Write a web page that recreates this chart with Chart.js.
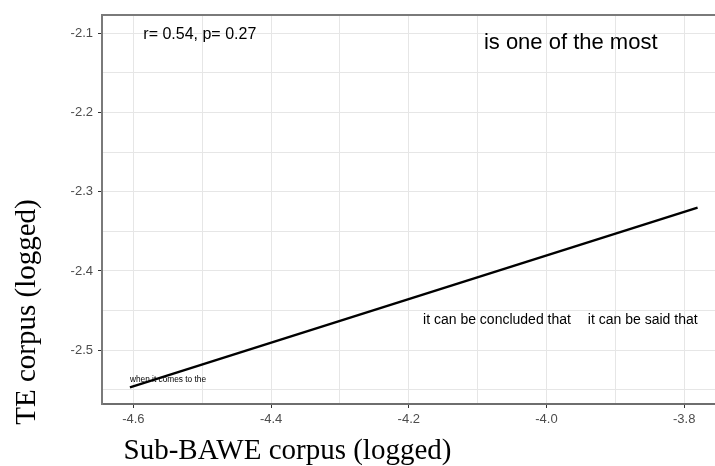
<!DOCTYPE html>
<html>
<head>
<meta charset="utf-8">
<script src="https://cdn.jsdelivr.net/npm/chart.js@4.4.0/dist/chart.umd.min.js"></script>
<style>
  html, body { margin: 0; padding: 0; background: #fff; overflow: hidden; }
</style>
</head>
<body>
<canvas id="grafico" width="740" height="466"></canvas>
<script>
// Frases e frequências (log) nos dois corpora
const frases = ['when it comes to the', 'it can be concluded that', 'it can be said that', 'is one of the most'];
const freqBawe = [-4.605, -3.9645, -3.7805, -3.8387];
const freqTE = [-2.543, -2.471, -2.471, -2.098];

// Reta de regressão (extremos do ajuste linear)
const retaX = [-4.605, -3.7805];
const retaY = [-2.5471, -2.3202];

// Anotação da correlação
const textoCorrelacao = 'r= 0.54, p= 0.27';
const posCorrelacao = [-4.5856, -2.1015];

// Limites dos eixos
const limitesX = [-4.6456, -3.7407];
const limitesY = [-2.568, -2.0769];

const tituloX = 'Sub-BAWE corpus (logged)';
const tituloY = 'TE corpus (logged)';

// Tamanho da fonte de cada frase (px)
const tamanhoFonte = [8.3, 14, 14, 22];

const fonteSans = '"Liberation Sans", Arial, sans-serif';
const fonteSerif = '"Liberation Serif", "Times New Roman", serif';

// Plugin: rótulos das frases, anotação, moldura superior e títulos dos eixos
const pluginTextos = {
  id: 'textos',
  afterDatasetsDraw(chart) {
    const { ctx, chartArea, scales } = chart;
    const sx = scales.x, sy = scales.y;
    const meioX = (sx.min + sx.max) / 2;
    const meioY = (sy.min + sy.max) / 2;

    ctx.save();
    // moldura superior do painel
    ctx.strokeStyle = '#7a7a7a';
    ctx.lineWidth = 2;
    ctx.beginPath();
    ctx.moveTo(chartArea.left, chartArea.top);
    ctx.lineTo(chartArea.right + 20, chartArea.top);
    ctx.stroke();

    // rótulos posicionados "para dentro", como no ggplot
    ctx.fillStyle = '#000';
    const pontos = chart.getDatasetMeta(1).data;
    pontos.forEach((p, i) => {
      ctx.font = tamanhoFonte[i] + 'px ' + fonteSans;
      ctx.textAlign = freqBawe[i] > meioX ? 'right' : 'left';
      ctx.textBaseline = freqTE[i] > meioY ? 'top' : 'bottom';
      ctx.fillText(frases[i], p.x, p.y);
    });

    ctx.font = '16px ' + fonteSans;
    ctx.textAlign = 'left';
    ctx.textBaseline = 'middle';
    ctx.fillText(textoCorrelacao, sx.getPixelForValue(posCorrelacao[0]), sy.getPixelForValue(posCorrelacao[1]));

    // títulos dos eixos
    ctx.font = '29px ' + fonteSerif;
    ctx.textAlign = 'center';
    ctx.textBaseline = 'alphabetic';
    ctx.fillText(tituloX, 287.5, 459);

    ctx.translate(35, 312);
    ctx.rotate(-Math.PI / 2);
    ctx.fillText(tituloY, 0, 0);
    ctx.restore();
  }
};

const corMarca = (ehMaior) => (ehMaior ? '#333333' : 'rgba(0,0,0,0)');

new Chart(document.getElementById('grafico'), {
  data: {
    datasets: [
      {
        type: 'line',
        data: retaX.map((x, i) => ({ x, y: retaY[i] })),
        borderColor: '#000',
        borderWidth: 2.4,
        pointRadius: 0,
        fill: false,
      },
      {
        type: 'scatter',
        data: freqBawe.map((x, i) => ({ x, y: freqTE[i] })),
        pointRadius: 0,
      },
    ],
  },
  options: {
    responsive: false,
    animation: false,
    layout: { padding: { left: 0, top: 15, right: 15, bottom: 0 } },
    plugins: { legend: { display: false }, tooltip: { enabled: false } },
    scales: {
      x: {
        type: 'linear',
        min: limitesX[0],
        max: limitesX[1],
        afterFit: (s) => { s.height = 62; },
        ticks: {
          stepSize: 0.1,
          includeBounds: false,
          autoSkip: false,
          maxRotation: 0,
          padding: 4,
          color: '#4d4d4d',
          font: { family: fonteSans, size: 13 },
          callback: (v) => (Math.abs(Math.round(v * 10)) % 2 === 0 ? v.toFixed(1) : ''),
        },
        grid: {
          color: '#e6e6e6',
          lineWidth: 1,
          tickLength: 4,
          tickColor: (c) => corMarca(c.tick && Math.abs(Math.round(c.tick.value * 10)) % 2 === 0),
        },
        border: { display: true, color: '#6e6e6e', width: 2 },
      },
      y: {
        type: 'linear',
        min: limitesY[0],
        max: limitesY[1],
        afterFit: (s) => { s.width = 102; },
        ticks: {
          stepSize: 0.05,
          includeBounds: false,
          autoSkip: false,
          padding: 5,
          color: '#4d4d4d',
          font: { family: fonteSans, size: 13 },
          callback: (v) => (Math.abs(Math.round(v * 100)) % 10 === 0 ? v.toFixed(1) : ''),
        },
        grid: {
          color: '#e6e6e6',
          lineWidth: 1,
          tickLength: 4,
          tickColor: (c) => corMarca(c.tick && Math.abs(Math.round(c.tick.value * 100)) % 10 === 0),
        },
        border: { display: true, color: '#7a7a7a', width: 2 },
      },
    },
  },
  plugins: [pluginTextos],
});
</script>
</body>
</html>
